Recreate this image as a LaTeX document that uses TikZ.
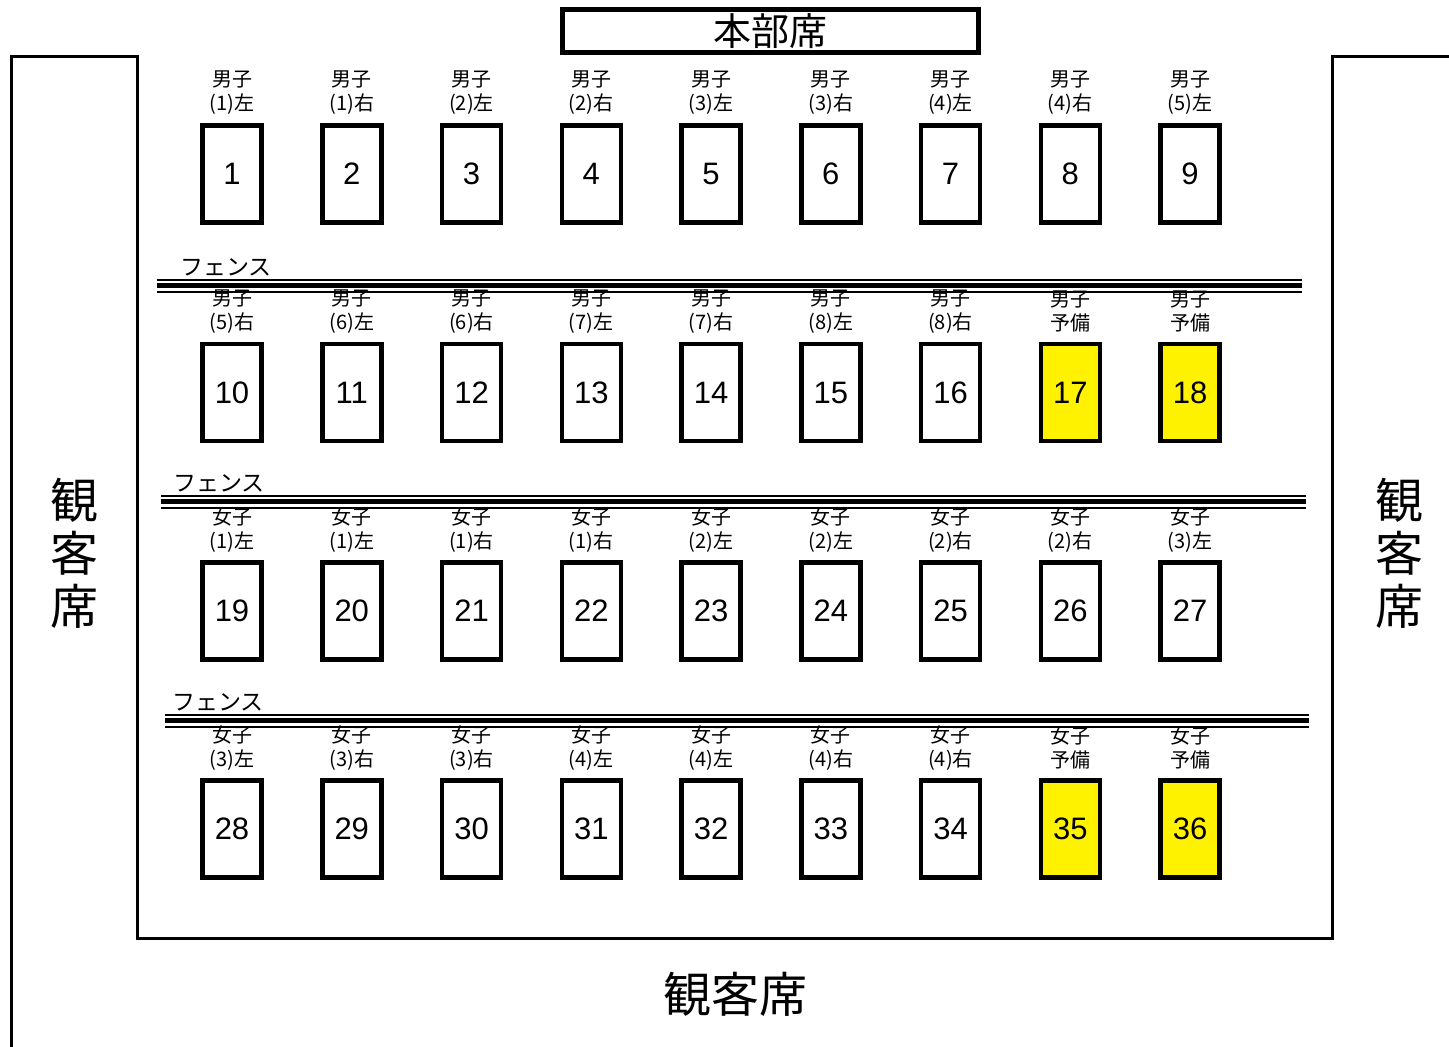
\documentclass[tikz,border=0pt]{standalone}
\usepackage{fontspec}
\setmainfont{Liberation Sans}
\newfontfamily\jp{Noto Sans CJK JP}
\begin{document}
\begin{tikzpicture}[x=1pt,y=-1pt,
  seat/.style={draw,line width=4.5pt,minimum width=59pt,minimum height=97pt,inner sep=0pt,font=\fontsize{31}{31}\selectfont,fill=white},
  spare/.style={seat,fill=yellow},
  lbl/.style={font=\jp\fontsize{20}{24}\selectfont,align=center,inner sep=0pt},
  big/.style={font=\jp\fontsize{48}{53}\selectfont,inner sep=0pt},
  fthin/.style={line width=2pt},
  fthick/.style={line width=5pt},
  flbl/.style={font=\jp\fontsize{23}{23}\selectfont,inner sep=0pt,anchor=base west},
  wall/.style={line width=3pt}]
\useasboundingbox (0,0) rectangle (1449,1047);
% outer wall
\coordinate (w1) at (11,1047);
\coordinate (w2) at (11,56);
\coordinate (w3) at (137,56);
\coordinate (w4) at (137,938);
\coordinate (w5) at (1332,938);
\coordinate (w6) at (1332,56);
\coordinate (w7) at (1449,56);
\draw[wall] (w1) -- (w2) -- (w3) -- (w4) -- (w5) -- (w6) -- (w7);
% headquarters
\node[draw,line width=5pt,minimum width=416pt,minimum height=43pt,inner sep=0pt,font=\jp\fontsize{38}{38}\selectfont] (hq) at (770.5,31) {本部席};
% spectators
\node[big] (specB) at (735,994) {観客席};
\node[big,align=center] (specL) at (74,553) {観\\客\\席};
\node[big,align=center] (specR) at (1399,553) {観\\客\\席};
% fences
\foreach \k/\xa/\xb/\yy/\xl in {1/157/1302/285.5/180,2/161/1306/501.5/173,3/165/1309/720.5/172}{
  \coordinate (fa\k) at (\xa,\yy);
  \coordinate (fb\k) at (\xb,\yy);
  \draw[fthick] (fa\k) -- (fb\k);
  \draw[fthin] ([yshift=6pt]fa\k) -- ([yshift=6pt]fb\k);
  \draw[fthin] ([yshift=-6.5pt]fa\k) -- ([yshift=-6.5pt]fb\k);
  \node[flbl] (fl\k) at (\xl,\yy-10) {フェンス};
}
% seats
\def\rowA{174}\def\rowB{392.5}\def\rowC{611}\def\rowD{829}
\def\loff{81}
\foreach \n/\lab [count=\i from 0] in {1/(1)左,2/(1)右,3/(2)左,4/(2)右,5/(3)左,6/(3)右,7/(4)左,8/(4)右,9/(5)左}{
  \pgfmathsetmacro\xx{232+119.75*\i}
  \node[seat] (s\n) at (\xx,\rowA) {\n};
  \node[lbl] (l\n) at (\xx,\rowA-\loff) {男子\\\lab};
}
\foreach \n/\lab [count=\i from 0] in {10/(5)右,11/(6)左,12/(6)右,13/(7)左,14/(7)右,15/(8)左,16/(8)右}{
  \pgfmathsetmacro\xx{232+119.75*\i}
  \node[seat] (s\n) at (\xx,\rowB) {\n};
  \node[lbl] (l\n) at (\xx,\rowB-\loff) {男子\\\lab};
}
\foreach \n [count=\i from 7] in {17,18}{
  \pgfmathsetmacro\xx{232+119.75*\i}
  \node[spare] (s\n) at (\xx,\rowB) {\n};
  \node[lbl] (l\n) at (\xx,\rowB-\loff) {男子\\予備};
}
\foreach \n/\lab [count=\i from 0] in {19/(1)左,20/(1)左,21/(1)右,22/(1)右,23/(2)左,24/(2)左,25/(2)右,26/(2)右,27/(3)左}{
  \pgfmathsetmacro\xx{232+119.75*\i}
  \node[seat] (s\n) at (\xx,\rowC) {\n};
  \node[lbl] (l\n) at (\xx,\rowC-\loff) {女子\\\lab};
}
\foreach \n/\lab [count=\i from 0] in {28/(3)左,29/(3)右,30/(3)右,31/(4)左,32/(4)左,33/(4)右,34/(4)右}{
  \pgfmathsetmacro\xx{232+119.75*\i}
  \node[seat] (s\n) at (\xx,\rowD) {\n};
  \node[lbl] (l\n) at (\xx,\rowD-\loff) {女子\\\lab};
}
\foreach \n [count=\i from 7] in {35,36}{
  \pgfmathsetmacro\xx{232+119.75*\i}
  \node[spare] (s\n) at (\xx,\rowD) {\n};
  \node[lbl] (l\n) at (\xx,\rowD-\loff) {女子\\予備};
}
\end{tikzpicture}
\end{document}
